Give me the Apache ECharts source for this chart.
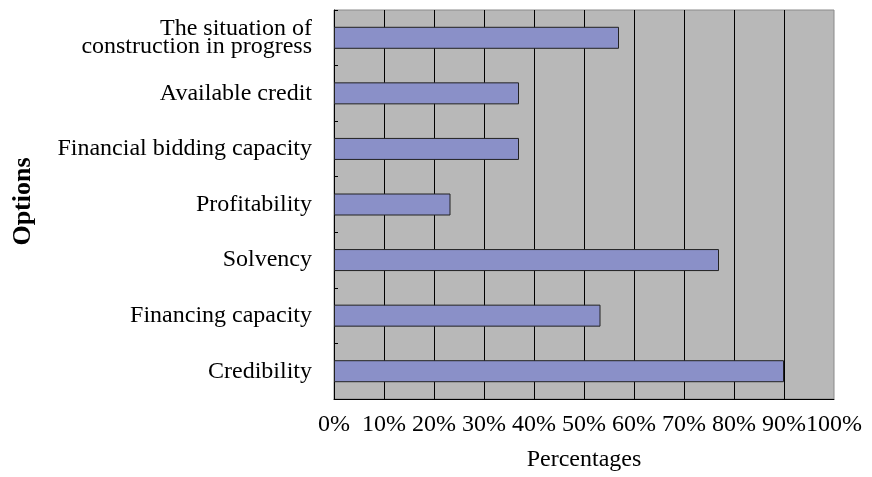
<!DOCTYPE html>
<html>
<head>
<meta charset="utf-8">
<script src="https://cdn.jsdelivr.net/npm/echarts@6/dist/echarts.min.js"></script>
<style>
html,body{margin:0;padding:0;background:#fff;}
#chart{width:872px;height:477px;}
</style>
</head>
<body>
<div id="chart"></div>
<script>
var categories = [
  "The situation of\nconstruction in progress",
  "Available credit",
  "Financial bidding capacity",
  "Profitability",
  "Solvency",
  "Financing capacity",
  "Credibility"
];
var values = [57, 37, 37, 23.3, 77, 53.3, 90];
var xTicks = [0, 10, 20, 30, 40, 50, 60, 70, 80, 90, 100];

var FONT = "Liberation Serif";
var chart = echarts.init(document.getElementById('chart'));
chart.setOption({
  animation: false,
  backgroundColor: '#ffffff',
  grid: {
    left: 334, right: 38, top: 10, bottom: 75,
    show: true, backgroundColor: '#b8b8b8', borderColor: '#8a8a8a', borderWidth: 1
  },
  xAxis: {
    type: 'value',
    min: xTicks[0], max: xTicks[xTicks.length - 1], interval: 10,
    name: 'Percentages',
    nameLocation: 'middle',
    nameGap: 49,
    nameTextStyle: { fontFamily: FONT, fontSize: 24, color: '#000' },
    axisLine: { show: true, lineStyle: { color: '#000', width: 1 } },
    axisTick: { show: false },
    axisLabel: { formatter: '{value}%', fontFamily: FONT, fontSize: 24, color: '#000', margin: 14 },
    splitLine: { show: true, showMinLine: false, showMaxLine: false, lineStyle: { color: '#000', width: 1 } }
  },
  yAxis: {
    type: 'category',
    data: categories,
    inverse: true,
    name: 'Options',
    nameLocation: 'middle',
    nameRotate: 90,
    nameGap: 298,
    nameTextStyle: { fontFamily: FONT, fontSize: 26, fontWeight: 'bold', color: '#000', padding: [0, 0, 0, 6] },
    axisLine: { show: true, lineStyle: { color: '#000', width: 1 } },
    axisTick: { show: true, inside: true, length: 4, lineStyle: { color: '#000' } },
    axisLabel: { fontFamily: FONT, fontSize: 24, color: '#000', margin: 22, lineHeight: 18 },
    splitLine: { show: false }
  },
  series: [{
    type: 'bar',
    data: values,
    barWidth: 22,
    itemStyle: { color: '#8a90c8', borderColor: '#222', borderWidth: 1 }
  }]
});
</script>
</body>
</html>
